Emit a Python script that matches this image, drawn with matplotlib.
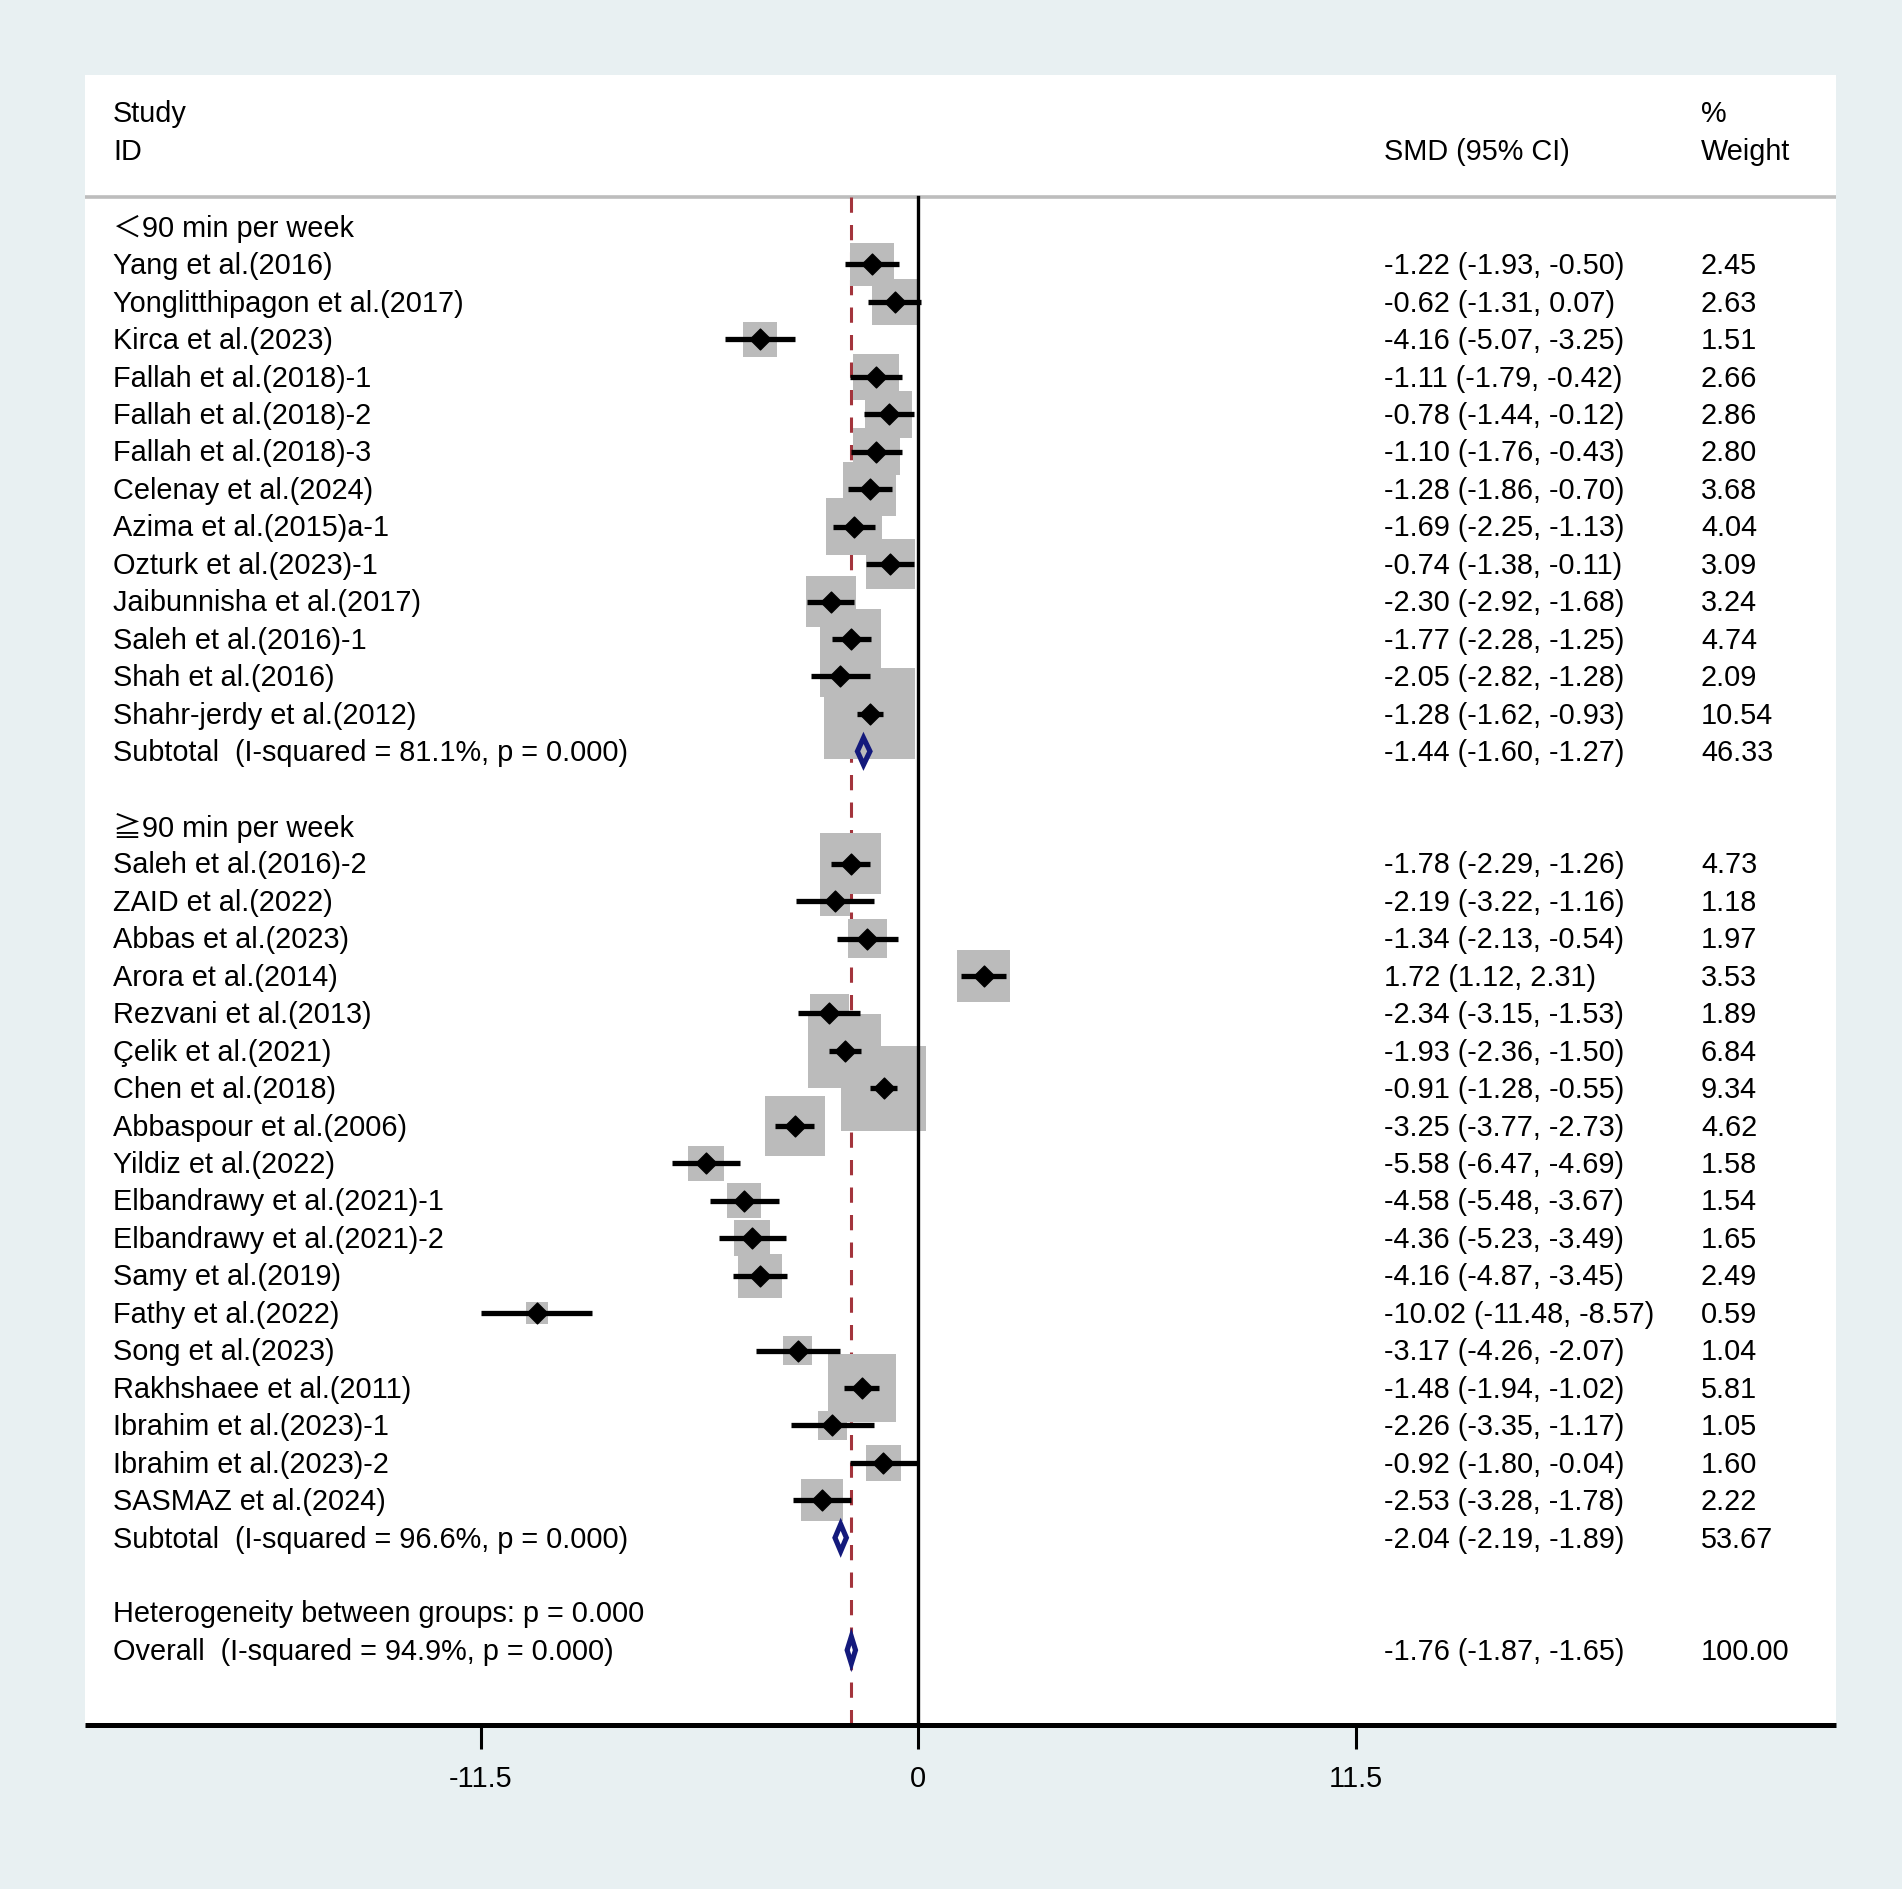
import numpy as np
import matplotlib.pyplot as plt
from matplotlib.patches import Rectangle, Polygon
from matplotlib.path import Path

plt.rcParams['font.family'] = ['Liberation Sans', 'Noto Sans CJK SC', 'DejaVu Sans']

# ---- data ----
group_labels = ["＜90 min per week", "≧90 min per week"]

g1_names = ["Yang et al.(2016)", "Yonglitthipagon et al.(2017)", "Kirca et al.(2023)",
            "Fallah et al.(2018)-1", "Fallah et al.(2018)-2", "Fallah et al.(2018)-3",
            "Celenay et al.(2024)", "Azima et al.(2015)a-1", "Ozturk et al.(2023)-1",
            "Jaibunnisha et al.(2017)", "Saleh et al.(2016)-1", "Shah et al.(2016)",
            "Shahr-jerdy et al.(2012)"]
g1_smd = [-1.22, -0.62, -4.16, -1.11, -0.78, -1.10, -1.28, -1.69, -0.74, -2.30, -1.77, -2.05, -1.28]
g1_lo = [-1.93, -1.31, -5.07, -1.79, -1.44, -1.76, -1.86, -2.25, -1.38, -2.92, -2.28, -2.82, -1.62]
g1_hi = [-0.50, 0.07, -3.25, -0.42, -0.12, -0.43, -0.70, -1.13, -0.11, -1.68, -1.25, -1.28, -0.93]
g1_wt = [2.45, 2.63, 1.51, 2.66, 2.86, 2.80, 3.68, 4.04, 3.09, 3.24, 4.74, 2.09, 10.54]

g2_names = ["Saleh et al.(2016)-2", "ZAID et al.(2022)", "Abbas et al.(2023)", "Arora et al.(2014)",
            "Rezvani et al.(2013)", "Çelik et al.(2021)", "Chen et al.(2018)",
            "Abbaspour et al.(2006)", "Yildiz et al.(2022)", "Elbandrawy et al.(2021)-1",
            "Elbandrawy et al.(2021)-2", "Samy et al.(2019)", "Fathy et al.(2022)",
            "Song et al.(2023)", "Rakhshaee et al.(2011)", "Ibrahim et al.(2023)-1",
            "Ibrahim et al.(2023)-2", "SASMAZ et al.(2024)"]
g2_smd = [-1.78, -2.19, -1.34, 1.72, -2.34, -1.93, -0.91, -3.25, -5.58, -4.58, -4.36, -4.16,
          -10.02, -3.17, -1.48, -2.26, -0.92, -2.53]
g2_lo = [-2.29, -3.22, -2.13, 1.12, -3.15, -2.36, -1.28, -3.77, -6.47, -5.48, -5.23, -4.87,
         -11.48, -4.26, -1.94, -3.35, -1.80, -3.28]
g2_hi = [-1.26, -1.16, -0.54, 2.31, -1.53, -1.50, -0.55, -2.73, -4.69, -3.67, -3.49, -3.45,
         -8.57, -2.07, -1.02, -1.17, -0.04, -1.78]
g2_wt = [4.73, 1.18, 1.97, 3.53, 1.89, 6.84, 9.34, 4.62, 1.58, 1.54, 1.65, 2.49, 0.59, 1.04,
         5.81, 1.05, 1.60, 2.22]

sub_labels = ["Subtotal  (I-squared = 81.1%, p = 0.000)", "Subtotal  (I-squared = 96.6%, p = 0.000)"]
sub_smd = [-1.44, -2.04]
sub_lo = [-1.60, -2.19]
sub_hi = [-1.27, -1.89]
sub_wt = [46.33, 53.67]

het_label = "Heterogeneity between groups: p = 0.000"
overall_label = "Overall  (I-squared = 94.9%, p = 0.000)"
overall_smd, overall_lo, overall_hi, overall_wt = -1.76, -1.87, -1.65, 100.00

xticks = [-11.5, 0, 11.5]
xticklabels = ["-11.5", "0", "11.5"]

# ---- layout ----
W, H, DPI = 1902, 1890, 100
bg = '#E8F0F2'
fig = plt.figure(figsize=(W / DPI, H / DPI), dpi=DPI, facecolor=bg)
left, right, top, bottom = 85, 1836, 76, 1726
ax = fig.add_axes([left / W, 1 - bottom / H, (right - left) / W, (bottom - top) / H])
ax.set_facecolor('white')

x0_px, px_per_x = 918.3, 38.05
xmin, xmax = (left - x0_px) / px_per_x, (right - x0_px) / px_per_x
ymin, ymax = 40.0, -4.06
ax.set_xlim(xmin, xmax)
ax.set_ylim(ymin, ymax)
px_per_row = (bottom - top) / (ymin - ymax)

fs = 20.8
dy = 0.02  # small nudge so text sits on the row centre
x_name, x_smd, x_wt = -21.16, 12.23, 20.57
line_top = -0.81

diamond = Path([(0, 1), (1, 0), (0, -1), (-1, 0), (0, 1)],
               [Path.MOVETO, Path.LINETO, Path.LINETO, Path.LINETO, Path.CLOSEPOLY])


def put(x, r, s):
    ax.text(x, r + dy, s, fontsize=fs, va='center')


# header
put(x_name, -3.06, "Study")
put(x_name, -2.04, "ID")
put(x_smd, -2.04, "SMD (95% CI)")
put(x_wt, -3.06, "%")
put(x_wt, -2.04, "Weight")
ax.axhline(line_top, color='#BDBDBD', lw=2.6, zorder=1)

# reference lines
ax.plot([overall_smd, overall_smd], [line_top, ymin], color='#A3343C', lw=2.2,
        dashes=(5, 4), zorder=1)
ax.plot([0, 0], [line_top, ymin], color='black', lw=2.4, zorder=4)


def fmt(e, lo, hi):
    return "{:.2f} ({:.2f}, {:.2f})".format(e, lo, hi)


def draw_study(r, name, e, lo, hi, w):
    side = 28 * np.sqrt(w)
    hw = side / 2 / px_per_x
    hh = side / 2 / px_per_row
    ax.add_patch(Rectangle((e - hw, r - hh), 2 * hw, 2 * hh, facecolor='#BBBBBB',
                           edgecolor='none', zorder=2))
    ax.plot([lo, hi], [r, r], color='black', lw=3.8, solid_capstyle='butt', zorder=3)
    ax.plot([e], [r], marker=diamond, markersize=15, color='black', zorder=3)
    put(x_name, r, name)
    put(x_smd, r, fmt(e, lo, hi))
    put(x_wt, r, "{:.2f}".format(w))


def draw_pooled(r, name, e, lo, hi, w):
    h = 0.36
    ax.add_patch(Polygon([(lo, r), (e, r - h), (hi, r), (e, r + h)], closed=True,
                         fill=False, edgecolor='#141A7C', lw=3.7, zorder=5))
    put(x_name, r, name)
    put(x_smd, r, fmt(e, lo, hi))
    put(x_wt, r, "{:.2f}".format(w))


groups = [(g1_names, g1_smd, g1_lo, g1_hi, g1_wt), (g2_names, g2_smd, g2_lo, g2_hi, g2_wt)]
r = 0
for gi, (names, smd, lo, hi, wt) in enumerate(groups):
    put(x_name, r, group_labels[gi])
    r += 1
    for i in range(len(names)):
        draw_study(r, names[i], smd[i], lo[i], hi[i], wt[i])
        r += 1
    draw_pooled(r, sub_labels[gi], sub_smd[gi], sub_lo[gi], sub_hi[gi], sub_wt[gi])
    r += 2

put(x_name, r, het_label)
r += 1
draw_pooled(r, overall_label, overall_smd, overall_lo, overall_hi, overall_wt)

# axis
for s in ['top', 'left', 'right']:
    ax.spines[s].set_visible(False)
ax.spines['bottom'].set_linewidth(3.6)
ax.spines['bottom'].set_color('black')
ax.spines['bottom'].set_capstyle('butt')
ax.set_yticks([])
ax.set_xticks(xticks)
ax.set_xticklabels(xticklabels)
ax.tick_params(axis='x', length=17, width=2.2, pad=11, labelsize=fs, color='black')

fig.savefig('out.png', dpi=DPI, facecolor=bg)
